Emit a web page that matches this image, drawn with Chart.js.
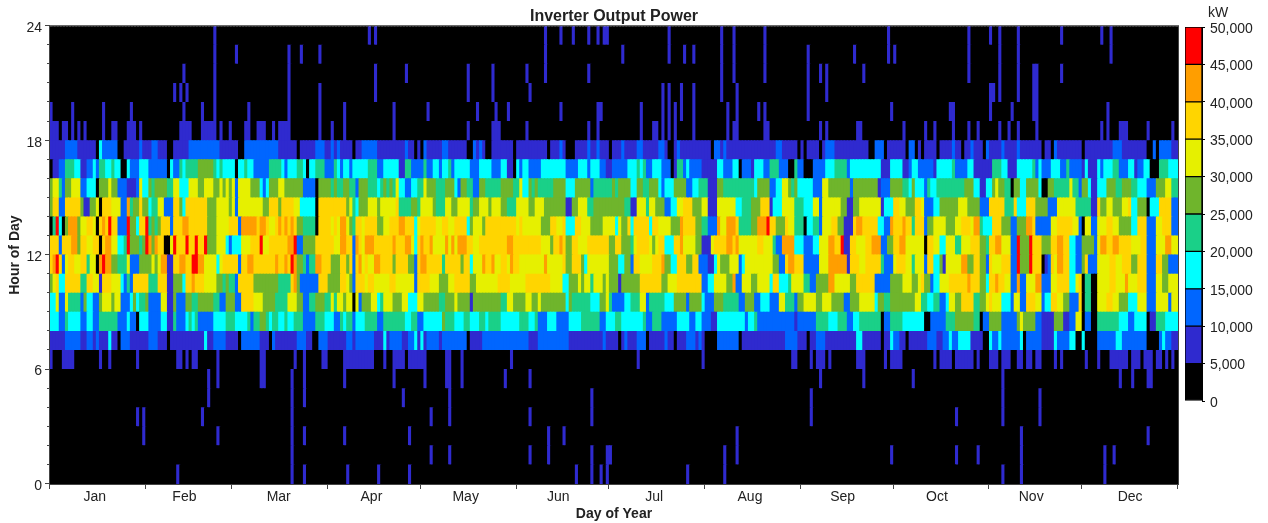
<!DOCTYPE html>
<html lang="en">
<head>
  <meta charset="UTF-8">
  <title>Inverter Output Power</title>
  <script src="https://cdn.jsdelivr.net/npm/chart.js@4/dist/chart.umd.min.js"></script>
  <style>
    body { margin: 0; background: #fff; }
    canvas { position: absolute; top: 0; }
    #heatmap { left: 0; }
    #colorbar { left: 1178px; }
  </style>
</head>
<body>
<canvas id="heatmap" width="1226" height="523"></canvas>
<canvas id="colorbar" width="90" height="420"></canvas>

<script>
  // one character per day, the colour bin: 0 = 0-5,000 kW ... 9 = 45,000-50,000 kW
  const hour17 = "1111122221 1111103222 2200111112 1112211100 1111122222 2222211111 1002222222 2222111111 0111112221 1212 1111011222 2211111111 1211010211 1112211111 1002121001 1111110111 1111111011 1210001111 2112111011 1211 1122111112 2100121111 1111110221 2111111111 1111111221 1111010111 1012221111 1111111002 2201111110 22 0101111011 1121101121 1102111121 1112111111 1011021111 1111011111 1111222111 1111100202 22211";
  const hour16 = "0112244433 1122324433 4330032223 3322222203 2243444455 5554343333 0334332222 2444432333 4430334442 2243 2332333334 4422333331 1442222422 3323342333 3322233332 2233110323 3222233333 3332222333 2333221122 2223 3343422333 2220144232 2221111133 2223302221 3332244422 2004220002 2223334444 2333333333 3111333311 23 3222221333 3342222331 1111144433 1113333342 3222333224 2222131113 2333442223 3122330004 44333";
  const hour15 = "5664255666 2233305556 5522211126 3354555544 6633366655 6665565656 2666655532 3555665555 5522220555 5454 4554425554 4434545463 3223344655 5444555325 5442255444 4455554463 3545444445 5553335555 5244444454 5555 3355445553 2333555522 3344411155 4444444444 3555522336 6545333332 2266555555 5255555555 1222555544 35 3332433444 4444445553 3113356554 4055335555 3005544444 6442553113 3355544555 4433322255 56644";
  const hour14 = "5772277777 5115560777 6662284557 5534466222 7753777777 7555666656 2666666665 5777577776 6333330777 7777 7756435556 6656666674 4445546666 5444665566 6645566656 6655444666 6556665555 5551155666 4455555555 5544 1166646655 5223366777 5556611166 6666334445 5577713336 6664443336 6266666655 1155666666 6133377665 55 7762223355 5555666555 5222777774 4473337775 5552226666 6644444117 5566555667 3355503337 77722";
  const hour13 = "0493058885 6677607879 7722295537 7945457772 7778877777 7555666677 7288888788 7667878787 5544440777 7676 8865477677 7755667778 8777367777 7667766777 7356665777 7777777676 6666655577 6673337766 6555566663 6557 3777773776 6665558777 7554422286 6888744445 5888977555 7664440334 4266677551 1178877777 3322877787 74 7772556666 5556677768 8433377755 5225558872 2222667777 7662066226 6677665555 3377722266 77722";
  const hour12 = "7772777885 7766770788 6633495554 5985877006 9777977977 9555666323 3366677796 6777777889 2255557777 7766 8877287688 8777777877 7886378778 6666868688 8776677777 7777887777 7777766657 7875577666 7777777557 7555 4677776567 7333778666 6551116777 7887866666 6776664228 8883332223 3666887791 1776667788 8225577886 66 6660776633 6664466677 7554778866 6229555977 7555778877 3322555526 8877887777 6667722266 68866";
  const hour11 = "7897267766 7746608988 5544462225 5556568811 7788779988 6666367777 7277887777 7778778798 5542448877 7555 7757278676 6887777577 7755278877 7774777775 7736668778 6677687766 6666668666 6675577753 6666666555 3355 2776666777 8553377755 7722211365 5566623666 6666665522 7887772222 2666888888 1777667777 7422267776 64 6662773351 6666688557 7552766677 7229555977 7012768877 3322572226 6667766777 5577722277 55222";
  const hour10 = "5673377777 4477661777 6663242777 7744477711 5553778777 6666554544 2777775555 5555444478 5222222777 5555 7765277767 7666667766 6666277776 6655566777 7755666666 6777766666 7777777766 6633555656 6466656555 1555 5557777777 5566677777 7772233666 6558226665 5666637733 3466664422 5555886666 6557777772 2222555566 65 5675523366 6777777877 7553778776 6228226668 8222667777 3367044006 6667766686 6677722266 55666";
  const hour9 = "3362264444 2533225666 5662223534 4522226611 5222554455 5554422555 2277776665 5554444666 5522445554 4646 6566062555 6634666555 6633366555 5544555655 5515555555 5544665555 6655655555 5553544444 4333556422 2233 4446624444 4333555525 5553222555 4444422555 2233322266 4442556666 5566655552 2555666663 5544555555 55 6644334422 3665577774 4556766633 3266227776 6233776655 2227044006 6677665553 3366622266 66266";
  const hour8 = "3332243333 2233224444 4422232203 3322223311 4222343422 2223333444 3333424455 4344334334 4422224443 3322 4344233344 4422444444 4334422333 3335444333 4433344344 4433333344 4334222333 2222333344 4444223334 4333 3333422444 2222233332 2332221133 3333333233 4222222222 2221222222 4444333444 2233444444 4022444433 33 3330022222 4445555554 4022555522 2225655552 2111155511 2266022004 4444443332 2333301144 43333";
  const hour7 = "1111122222 1122121113 1102221111 1122211101 1111111111 3112222111 1022222211 1021111111 2221100222 1111 1122122222 2111312222 1122313122 2212222222 2011112222 2222222222 2111222222 2222111111 1111121111 0121 1122201111 1211011122 2121000022 2222201111 1111111111 2222111011 2221111111 1113311111 1011322110 11 1111222112 2322333311 1100322322 2222302222 2111132222 3300300002 2222233222 2222200002 32211";

  // night hours are nearly empty: days with output in the 5,000-10,000 kW bin
  const hour0 = [41,78,82,96,106,116,170,175,178,180,206,218,308,314,341];
  const hour1 = [78,123,129,155,161,175,180,181,218,222,272,293,300,314,341,344];
  const hour2 = [30,54,78,82,95,116,161,166,222,314,355];
  const hour3 = [28,30,49,78,123,129,155,175,246,293,308,320];
  const hour4 = [51,78,82,114,129,175,246,308,320];
  const hour5 = [51,54,68,69,78,82,95,111,121,128,129,133,147,155,249,263,279,308,346,350,355,356];
  const hour6 = [0,4,5,6,7,16,19,28,41,42,44,46,47,54,68,69,79,82,88,89,95,96,97,98,99,100,101,102,103,104,108,111,112,113,114,116,117,118,119,120,121,128,129,133,149,190,211,240,241,246,248,249,250,252,261,262,263,270,272,273,274,275,286,288,289,290,291,293,294,295,296,297,298,300,304,305,306,308,309,310,313,314,316,317,319,320,325,327,335,339,343,344,345,346,347,348,350,351,352,354,355,356,358,359,361,363];
  const hour18 = [0,1,2,4,5,7,9,11,17,20,21,25,26,27,29,42,43,44,45,49,50,51,52,53,55,58,63,64,67,68,69,72,74,75,76,77,87,91,95,111,135,143,144,145,154,174,177,191,195,196,198,200,202,208,219,221,222,231,232,249,251,261,262,276,283,286,292,297,300,307,310,313,319,340,342,346,347,348,355,363];
  const hour19 = [0,7,17,26,43,49,53,64,77,87,95,111,122,138,144,148,165,177,178,191,198,200,202,204,208,219,222,229,231,245,272,291,292,304,311,318,319,342];
  const hour20 = [40,42,44,53,77,87,105,135,143,155,198,200,204,208,217,222,245,251,304,305,307,313,318,319];
  const hour21 = [43,53,77,105,115,135,143,154,160,174,217,221,231,245,249,251,263,297,307,313,318,319,327];
  const hour22 = [53,60,77,81,87,160,185,200,205,208,217,221,231,245,260,271,273,297,307,313,343];
  const hour23 = [53,103,105,160,165,169,174,177,179,180,200,217,221,231,271,297,304,307,313,327,340,343];

  const monthNames = ["Jan","Feb","Mar","Apr","May","Jun","Jul","Aug","Sep","Oct","Nov","Dec"];
  const monthStarts = [0,31,59,90,120,151,181,212,243,273,304,334,365];
  const monthLabelDays = [14.5,43.5,74,104,134.5,164.5,195.5,226.5,256.5,287,317.5,349.5];
  const hourLabels = [0,6,12,18,24];
  const hourTicks = Array.from({ length: 25 }, (_, i) => i);
  const kwEdges = [0,5000,10000,15000,20000,25000,30000,35000,40000,45000,50000];
  const binColors = ["#000000","#2f2acf","#0066ff","#00ffff","#1ad088","#6fb52c","#e6f000","#ffd500","#ff9e00","#ff0000"];

  const allHours = [hour0,hour1,hour2,hour3,hour4,hour5,hour6,hour7,hour8,hour9,hour10,hour11,
    hour12,hour13,hour14,hour15,hour16,hour17,hour18,hour19,hour20,hour21,hour22,hour23];
  const days = Array.from({ length: 365 }, (_, i) => i);

  function binsForHour(row) {
    if (typeof row === "string") {
      const compact = row.replace(/ /g, "");
      return days.map(d => Number(compact[d]));
    }
    return days.map(d => row.includes(d) ? 1 : 0);
  }

  const textColor = "#222222";
  const axisColor = "#444444";

  const heatmapDatasets = allHours.map((row, hour) => {
    const bins = binsForHour(row);
    return {
      data: days.map(d => ({ x: d + 0.5, y: [hour, hour + 1] })),
      backgroundColor: bins.map(b => binColors[b]),
      borderWidth: 0,
      inflateAmount: 0.5,
      grouped: false,
      barPercentage: 1,
      categoryPercentage: 1
    };
  });

  // frame round the plot, plus the long and short tick marks
  const plotFrame = {
    id: "plotFrame",
    afterDraw(chart) {
      const { ctx, chartArea: a, scales } = chart;
      ctx.save();
      ctx.strokeStyle = axisColor;
      ctx.lineWidth = 1;
      ctx.strokeRect(a.left - 0.5, a.top - 0.5, a.right - a.left + 1, a.bottom - a.top + 1);
      ctx.beginPath();
      monthStarts.forEach(d => {
        const px = Math.round(scales.x.getPixelForValue(d)) - 0.5;
        ctx.moveTo(px, a.bottom);
        ctx.lineTo(px, a.bottom + 5);
      });
      hourTicks.forEach(h => {
        const py = Math.round(scales.y.getPixelForValue(h)) - 0.5;
        ctx.moveTo(a.left, py);
        ctx.lineTo(a.left - (h % 6 === 0 ? 5 : 3), py);
      });
      ctx.stroke();
      ctx.restore();
    }
  };

  new Chart(document.getElementById("heatmap"), {
    type: "bar",
    data: { datasets: heatmapDatasets },
    plugins: [plotFrame],
    options: {
      responsive: false,
      devicePixelRatio: 1,
      animation: false,
      layout: { padding: { top: 0, right: 48, bottom: 0, left: 0 } },
      plugins: {
        legend: { display: false },
        tooltip: { enabled: false },
        title: {
          display: true,
          fullSize: false,
          text: "Inverter Output Power",
          color: textColor,
          font: { family: "Liberation Sans", size: 16, weight: "bold" },
          padding: { top: 7, bottom: 0 }
        }
      },
      scales: {
        x: {
          type: "linear", position: "bottom", min: 0, max: 365, weight: 0, offset: false,
          afterBuildTicks(scale) { scale.ticks = monthLabelDays.map(v => ({ value: v })); },
          afterFit(scale) { scale.height = 39; },
          grid: { display: false, tickLength: 5 },
          border: { display: false },
          ticks: {
            autoSkip: false, maxRotation: 0, padding: 0, color: textColor,
            font: { family: "Liberation Sans", size: 14 },
            callback: (v, i) => monthNames[i]
          },
          title: {
            display: true, text: "Day of Year", color: textColor, padding: 0,
            font: { family: "Liberation Sans", size: 14, weight: "bold" }
          }
        },
        y: {
          type: "linear", position: "left", min: 0, max: 24,
          afterBuildTicks(scale) { scale.ticks = hourLabels.map(v => ({ value: v })); },
          afterFit(scale) { scale.width = 50; },
          grid: { display: false, tickLength: 5 },
          border: { display: false },
          ticks: { padding: 3, labelOffset: 2, color: textColor, font: { family: "Liberation Sans", size: 14 } },
          title: {
            display: true, text: "Hour of Day", color: textColor, padding: { top: 7, bottom: 0 },
            font: { family: "Liberation Sans", size: 14, weight: "bold" }
          }
        }
      }
    }
  });

  const unitLabel = {
    id: "unitLabel",
    afterDraw(chart) {
      const { ctx, scales } = chart;
      ctx.save();
      ctx.fillStyle = textColor;
      ctx.font = "14px 'Liberation Sans'";
      ctx.textBaseline = "middle";
      ctx.fillText("kW", scales.y.left + 6, 13);
      ctx.restore();
    }
  };

  new Chart(document.getElementById("colorbar"), {
    type: "bar",
    data: {
      labels: ["kW"],
      datasets: binColors.map((color, i) => ({
        data: [[kwEdges[i], kwEdges[i + 1]]],
        backgroundColor: color,
        borderColor: "#000000",
        borderWidth: 1,
        borderSkipped: false,
        grouped: false,
        barPercentage: 1,
        categoryPercentage: 1
      }))
    },
    plugins: [unitLabel],
    options: {
      responsive: false,
      devicePixelRatio: 1,
      animation: false,
      layout: { padding: { top: 27, right: 0, bottom: 19, left: 7 } },
      plugins: { legend: { display: false }, tooltip: { enabled: false } },
      scales: {
        x: { display: false },
        y: {
          position: "right", min: 0, max: 50000,
          afterFit(scale) { scale.width = 66; },
          grid: { drawOnChartArea: false, tickLength: 3, tickColor: "#000000" },
          border: { color: "#000000" },
          ticks: {
            stepSize: 5000, autoSkip: false, padding: 5, labelOffset: 2, color: textColor,
            font: { family: "Liberation Sans", size: 14 },
            callback: v => v.toLocaleString("en-US")
          }
        }
      }
    }
  });
</script>
</body>
</html>
